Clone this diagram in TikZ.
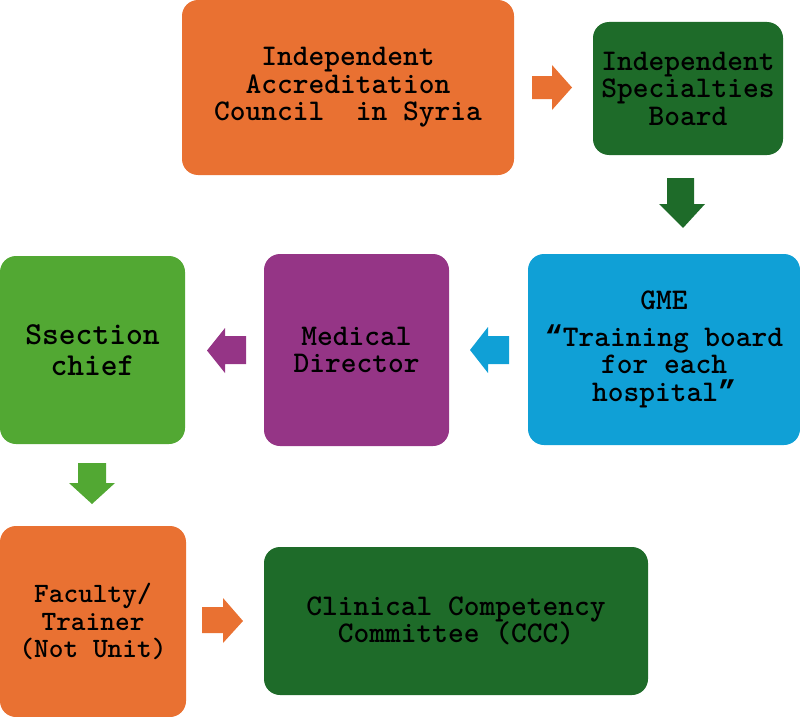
\documentclass[tikz,border=0pt]{standalone}
\usepackage{fontspec}
\newfontfamily\qfont{Liberation Mono}
\newcommand\myopenq{{\qfont “}}
\newcommand\mycloseq{{\qfont ”}}
\definecolor{corange}{HTML}{E97132}
\definecolor{cdkgreen}{HTML}{1E6B29}
\definecolor{cblue}{HTML}{10A0D6}
\definecolor{cpurple}{HTML}{953586}
\definecolor{cgreen}{HTML}{52A833}
\begin{document}
\begin{tikzpicture}[x=1pt,y=-1pt,
  box/.style={rectangle,rounded corners=16pt,inner sep=0pt,align=center,
    text=black,font=\ttfamily\bfseries\fontsize{30}{27.5}\selectfont}]
\useasboundingbox (0,0) rectangle (800,717);
% boxes
\node[box,fill=corange,minimum width=332pt,minimum height=175pt] (iac) at (348,87.5)
  {Independent\\Accreditation\\Council\ \ in Syria};
\node[box,fill=cdkgreen,minimum width=190pt,minimum height=133pt] (isb) at (688,88.5)
  {Independent\\Specialties\\Board};
\node[box,fill=cblue,minimum width=272pt,minimum height=191pt] (gme) at (664,349.5)
  {GME\\[9pt]\myopenq Training board\\for each\\hospital\mycloseq};
\node[box,fill=cpurple,minimum width=185pt,minimum height=192pt] (md) at (356.5,350)
  {Medical\\Director};
\node[box,fill=cgreen,minimum width=185pt,minimum height=188pt,
  font=\ttfamily\bfseries\fontsize{32}{31}\selectfont] (sc) at (92.5,350)
  {Ssection\\chief};
\node[box,fill=corange,minimum width=186pt,minimum height=191pt,
  font=\ttfamily\bfseries\fontsize{28}{27.5}\selectfont] (fac) at (93,621.5)
  {Faculty/\\Trainer\\(Not Unit)};
\node[box,fill=cdkgreen,minimum width=384pt,minimum height=148pt] (ccc) at (456,621)
  {Clinical Competency\\Committee (CCC)};
% block arrows
\fill[corange] (532,76) -- (552,76) -- (552,65) -- (572,87.5) -- (552,110) -- (552,99) -- (532,99) -- cycle;
\fill[cdkgreen] (667,178) -- (694,178) -- (694,204) -- (705,204) -- (683,228) -- (659,204) -- (667,204) -- cycle;
\fill[cblue] (509,336) -- (488,336) -- (488,327) -- (470,350) -- (488,373) -- (488,364) -- (509,364) -- cycle;
\fill[cpurple] (246,336) -- (225,336) -- (225,328) -- (207,350.5) -- (225,373) -- (225,364) -- (246,364) -- cycle;
\fill[cgreen] (78,463) -- (106,463) -- (106,483) -- (115,483) -- (92,504) -- (69,483) -- (78,483) -- cycle;
\fill[corange] (202,607) -- (223,607) -- (223,598) -- (243,621) -- (223,643) -- (223,633) -- (202,633) -- cycle;
\end{tikzpicture}
\end{document}
